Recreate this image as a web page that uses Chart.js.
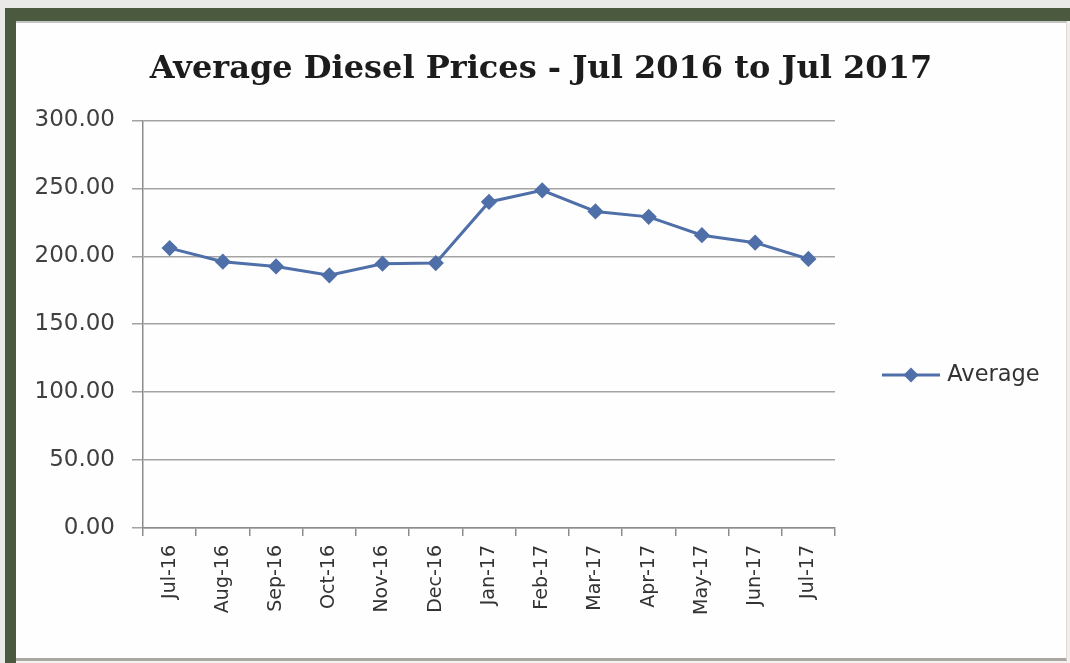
<!DOCTYPE html>
<html><head><meta charset="utf-8">
<script src="https://cdn.jsdelivr.net/npm/chart.js@4"></script>
<style>
html,body{margin:0;padding:0;width:1070px;height:663px;overflow:hidden;background:#e9e9e7;}
#frameTop{position:absolute;left:5px;top:8px;width:1065px;height:13px;background:#4b5a3f;}
#frameLeft{position:absolute;left:5px;top:8px;width:11px;height:655px;background:#4b5a3f;}
#rightEdge{position:absolute;left:1067px;top:21px;width:3px;height:642px;background:#f1eeee;}
#bottomEdge{position:absolute;left:16px;top:659px;width:1054px;height:4px;background:#f3f2f0;}
#panel{position:absolute;left:16px;top:21px;width:1050px;height:635px;background:#fefefe;border-top:2px solid #c4c4c4;border-bottom:3px solid #aaa7a2;border-right:1px solid #e3d9d9;}
#wrap{position:absolute;left:16px;top:22px;width:1050px;height:634px;}
</style></head>
<body>
<div id="frameTop"></div>
<div id="frameLeft"></div>
<div id="rightEdge"></div>
<div id="bottomEdge"></div>
<div id="panel"></div>
<div id="wrap"><canvas id="c"></canvas></div>
<script>
const categories = ['Jul-16','Aug-16','Sep-16','Oct-16','Nov-16','Dec-16','Jan-17','Feb-17','Mar-17','Apr-17','May-17','Jun-17','Jul-17'];
const averagePrices = [206, 196, 192.5, 186, 194.5, 195, 240, 248.5, 233, 229, 215.5, 210, 198];
const yTickValues = [0, 50, 100, 150, 200, 250, 300];
const seriesName = 'Average';
const chartTitle = 'Average Diesel Prices - Jul 2016 to Jul 2017';

const BLUE = '#4f6fa9';

// legend symbol: line with diamond
const legendImg = document.createElement('canvas');
legendImg.width = 58; legendImg.height = 18;
(function(){
  const g = legendImg.getContext('2d');
  g.strokeStyle = BLUE; g.lineWidth = 3;
  g.beginPath(); g.moveTo(0, 9); g.lineTo(58, 9); g.stroke();
  g.fillStyle = BLUE;
  g.beginPath(); g.moveTo(29, 1.5); g.lineTo(36.5, 9); g.lineTo(29, 16.5); g.lineTo(21.5, 9); g.closePath(); g.fill();
})();

const legendPlace = {
  id: 'legendPlace',
  afterInit(chart) {
    const lg = chart.legend;
    const orig = lg.fit.bind(lg);
    lg.fit = function() { orig(); this.width = 231; };
  },
  afterLayout(chart) {
    const lg = chart.legend;
    lg.left += 41; lg.right += 41;
    lg.top += 36; lg.bottom += 36;
  }
};

new Chart(document.getElementById('c'), {
  type: 'line',
  data: {
    labels: categories,
    datasets: [{
      label: seriesName,
      data: averagePrices,
      borderColor: BLUE,
      backgroundColor: BLUE,
      borderWidth: 3,
      pointStyle: 'rectRot',
      pointRadius: 6,
      pointHoverRadius: 6,
      tension: 0,
      fill: false
    }]
  },
  options: {
    responsive: true,
    maintainAspectRatio: false,
    animation: false,
    layout: { padding: { left: 0, right: 0, top: 0, bottom: 0 } },
    plugins: {
      title: {
        display: true,
        text: chartTitle,
        color: '#1c1c1c',
        font: { family: 'DejaVu Serif', weight: 'bold', size: 32 },
        padding: { top: 28, bottom: 32 }
      },
      legend: {
        position: 'right',
        labels: {
          usePointStyle: true,
          pointStyle: legendImg,
          pointStyleWidth: 50,
          padding: 10,
          color: '#333333',
          font: { family: 'DejaVu Sans', size: 22.5 }
        }
      },
      tooltip: { enabled: false }
    },
    scales: {
      x: {
        type: 'category',
        offset: true,
        grid: { offset: true, drawOnChartArea: false, drawTicks: true, tickLength: 8, color: '#8c8c8c', lineWidth: 1.5 },
        border: { display: true, color: '#8c8c8c', width: 1.5 },
        ticks: { autoSkip: false, minRotation: 90, maxRotation: 90, padding: 9, color: '#333333', font: { family: 'DejaVu Sans', size: 19 } },
        afterFit(s) { s.height = 128; }
      },
      y: {
        min: 0, max: 300,
        afterBuildTicks(s) { s.ticks = yTickValues.map(v => ({ value: v })); },
        ticks: { padding: 17, color: '#404040', font: { family: 'DejaVu Sans', size: 23 }, callback: v => Number(v).toFixed(2) },
        grid: { color: '#a3a3a3', lineWidth: 1.5, tickLength: 11, drawTicks: true },
        border: { display: true, color: '#8c8c8c', width: 1.5 },
        afterFit(s) { s.width = 127; }
      }
    }
  },
  plugins: [legendPlace]
});
</script>
</body></html>
